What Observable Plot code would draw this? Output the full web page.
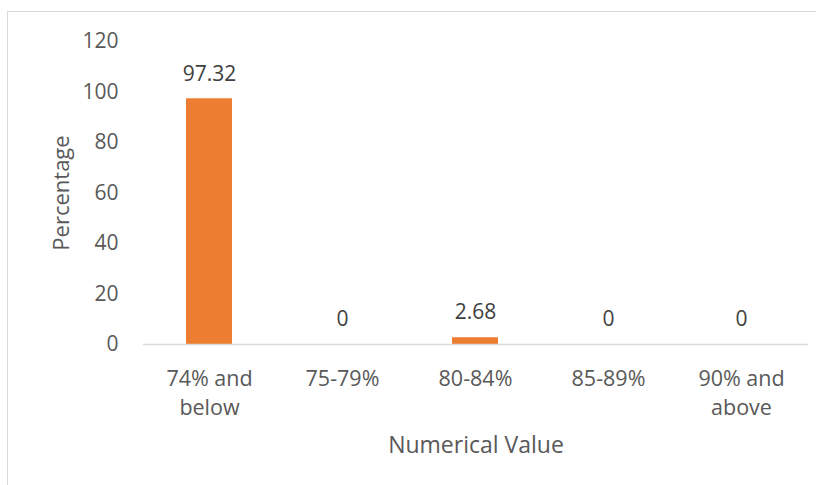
<!DOCTYPE html>
<html><head><meta charset="utf-8">
<script src="https://cdn.jsdelivr.net/npm/d3@7"></script>
<script src="https://cdn.jsdelivr.net/npm/@observablehq/plot@0.6"></script>
<style>
body{margin:0;background:#fff;}
#wrap{position:relative;width:816px;height:485px;overflow:hidden;}
#frame{position:absolute;left:7px;top:11px;width:900px;height:600px;border:1px solid #d9d9d9;box-sizing:border-box;}
#chart{position:absolute;left:0;top:0;}
</style></head><body>
<div id="wrap"><div id="frame"></div><div id="chart"></div></div>
<script>
const categories = ["74% and\nbelow", "75-79%", "80-84%", "85-89%", "90% and\nabove"];
const percentages = [97.32, 0, 2.68, 0, 0];
const valueLabels = ["97.32", "0", "2.68", "0", "0"];
const yTicks = [0, 20, 40, 60, 80, 100, 120];
const xTitle = "Numerical Value";
const yTitle = "Percentage";

const data = categories.map((c, i) => ({category: c, value: percentages[i], label: valueLabels[i]}));

const chart = Plot.plot({
  width: 816, height: 485,
  marginLeft: 143, marginRight: 8, marginTop: 41, marginBottom: 141,
  style: {fontFamily: "'Open Sans', sans-serif", fontSize: "21px", color: "#595959", background: "transparent", overflow: "visible"},
  x: {domain: categories, paddingInner: 0.652, paddingOuter: 0.326, axis: null},
  y: {domain: [0, 120], axis: null},
  marks: [
    Plot.barY(data, {x: "category", y: "value", fill: "#ED7D31"}),
    Plot.ruleY([0], {stroke: "#d9d9d9", strokeWidth: 1.3}),
    Plot.text(data, {x: "category", y: "value", text: "label", dy: -25, lineAnchor: "middle", fill: "#404040", fontSize: 21}),
    Plot.axisX({tickSize: 0, tickPadding: 21, label: null, lineHeight: 1.35, fill: "#595959", fontSize: 21.5}),
    Plot.axisY({ticks: yTicks, tickSize: 0, tickPadding: 25, label: null, fill: "#595959", fontSize: 21}),
    Plot.text([xTitle], {frameAnchor: "bottom", text: d => d, dy: 101, lineAnchor: "middle", fill: "#595959", fontSize: 23}),
    Plot.text([yTitle], {frameAnchor: "left", text: d => d, dx: -82, rotate: -90, textAnchor: "middle", lineAnchor: "middle", fill: "#595959", fontSize: 22})
  ]
});
document.getElementById("chart").appendChild(chart);
</script>
</body></html>
